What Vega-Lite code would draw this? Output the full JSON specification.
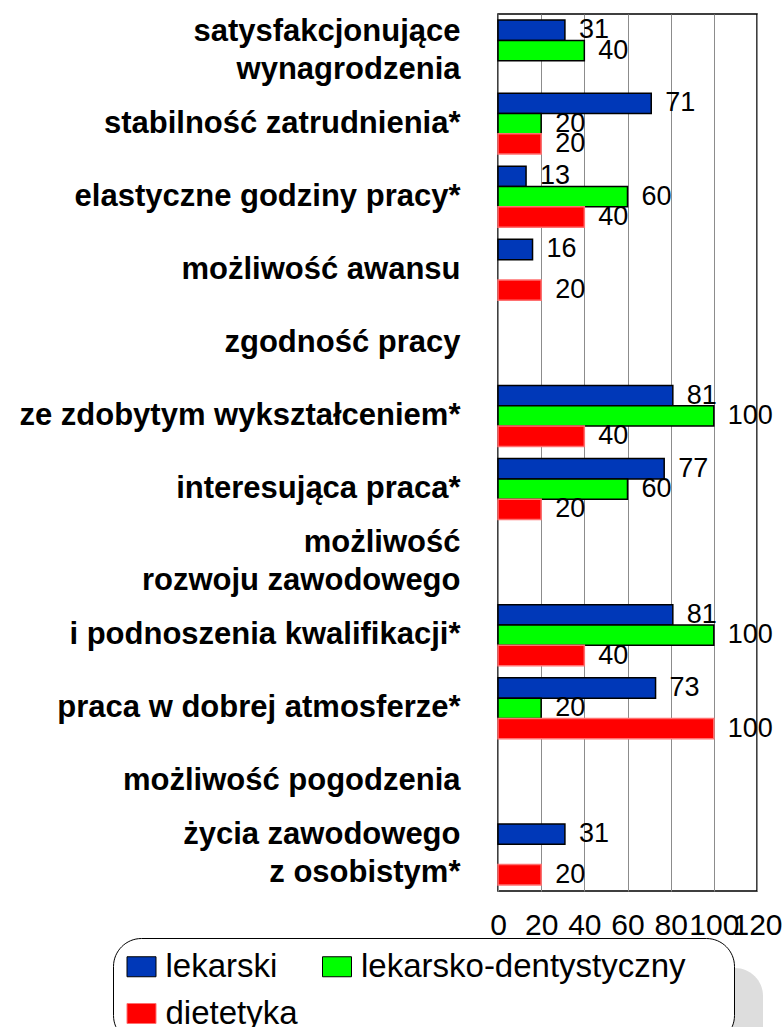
{
  "$schema": "https://vega.github.io/schema/vega-lite/v6.json",
  "width": 259,
  "height": 877,
  "autosize": {"type": "none"},
  "padding": {"left": 498, "top": 14, "right": 26, "bottom": 136},
  "background": "white",
  "config": {
    "view": {"stroke": "black", "strokeWidth": 1.5},
    "font": "Liberation Sans"
  },
  "data": {
    "values": [
      {"cat": "satysfakcjonujące|wynagrodzenia", "series": "lekarski", "value": 31},
      {"cat": "satysfakcjonujące|wynagrodzenia", "series": "lekarsko-dentystyczny", "value": 40},
      {"cat": "stabilność zatrudnienia*", "series": "lekarski", "value": 71},
      {"cat": "stabilność zatrudnienia*", "series": "lekarsko-dentystyczny", "value": 20},
      {"cat": "stabilność zatrudnienia*", "series": "dietetyka", "value": 20},
      {"cat": "elastyczne godziny pracy*", "series": "lekarski", "value": 13},
      {"cat": "elastyczne godziny pracy*", "series": "lekarsko-dentystyczny", "value": 60},
      {"cat": "elastyczne godziny pracy*", "series": "dietetyka", "value": 40},
      {"cat": "możliwość awansu", "series": "lekarski", "value": 16},
      {"cat": "możliwość awansu", "series": "dietetyka", "value": 20},
      {"cat": "ze zdobytym wykształceniem*", "series": "lekarski", "value": 81},
      {"cat": "ze zdobytym wykształceniem*", "series": "lekarsko-dentystyczny", "value": 100},
      {"cat": "ze zdobytym wykształceniem*", "series": "dietetyka", "value": 40},
      {"cat": "interesująca praca*", "series": "lekarski", "value": 77},
      {"cat": "interesująca praca*", "series": "lekarsko-dentystyczny", "value": 60},
      {"cat": "interesująca praca*", "series": "dietetyka", "value": 20},
      {"cat": "i podnoszenia kwalifikacji*", "series": "lekarski", "value": 81},
      {"cat": "i podnoszenia kwalifikacji*", "series": "lekarsko-dentystyczny", "value": 100},
      {"cat": "i podnoszenia kwalifikacji*", "series": "dietetyka", "value": 40},
      {"cat": "praca w dobrej atmosferze*", "series": "lekarski", "value": 73},
      {"cat": "praca w dobrej atmosferze*", "series": "lekarsko-dentystyczny", "value": 20},
      {"cat": "praca w dobrej atmosferze*", "series": "dietetyka", "value": 100},
      {"cat": "życia zawodowego|z osobistym*", "series": "lekarski", "value": 31},
      {"cat": "życia zawodowego|z osobistym*", "series": "dietetyka", "value": 20}
    ]
  },
  "encoding": {
    "y": {
      "field": "cat",
      "type": "nominal",
      "title": null,
      "scale": {
        "domain": [
          "satysfakcjonujące|wynagrodzenia",
          "stabilność zatrudnienia*",
          "elastyczne godziny pracy*",
          "możliwość awansu",
          "zgodność pracy",
          "ze zdobytym wykształceniem*",
          "interesująca praca*",
          "możliwość|rozwoju zawodowego",
          "i podnoszenia kwalifikacji*",
          "praca w dobrej atmosferze*",
          "możliwość pogodzenia",
          "życia zawodowego|z osobistym*"
        ],
        "paddingInner": 0,
        "paddingOuter": 0
      },
      "axis": {
        "domain": false,
        "ticks": false,
        "labelExpr": "split(datum.label, '|')",
        "labelFontSize": 31,
        "labelFontWeight": "bold",
        "labelColor": "black",
        "labelPadding": 38,
        "labelLineHeight": 38,
        "labelLimit": 500,
        "labelAlign": "right",
        "labelBaseline": "middle",
        "labelOffset": {"condition": {"test": "indexof(datum.value, '|') >= 0", "value": -19}, "value": 0}
      }
    },
    "yOffset": {
      "field": "series",
      "type": "nominal",
      "scale": {
        "domain": ["lekarski", "lekarsko-dentystyczny", "dietetyka"],
        "paddingInner": 0,
        "paddingOuter": 0.3
      }
    },
    "x": {
      "field": "value",
      "type": "quantitative",
      "title": null,
      "scale": {"domain": [0, 120], "nice": false},
      "axis": {
        "values": [0, 20, 40, 60, 80, 100, 120],
        "grid": true,
        "gridColor": "#8c8c8c",
        "gridWidth": 1,
        "domain": false,
        "ticks": false,
        "labelFontSize": 30,
        "labelColor": "black",
        "labelPadding": 19,
        "labelOverlap": false,
        "labelFlush": false
      }
    }
  },
  "layer": [
    {
      "mark": {"type": "bar", "stroke": "black", "strokeWidth": 1.5},
      "encoding": {
        "fill": {
          "field": "series",
          "type": "nominal",
          "scale": {
            "domain": ["lekarski", "lekarsko-dentystyczny", "dietetyka"],
            "range": ["#0038B8", "#00FF00", "#FF0000"]
          },
          "legend": {
            "orient": "none",
            "legendX": -385,
            "legendY": 924,
            "direction": "horizontal",
            "columns": 2,
            "title": " ",
            "titleOrient": "right",
            "titleFontSize": 1,
            "titlePadding": 36,
            "symbolType": "M-1.45,-1L1.45,-1L1.45,1L-1.45,1Z",
            "symbolSize": 400,
            "symbolStrokeColor": "black",
            "symbolStrokeWidth": 1,
            "labelFontSize": 33,
            "labelColor": "black",
            "labelOffset": 7.5,
            "labelLimit": 600,
            "columnPadding": 22.5,
            "rowPadding": 13,
            "padding": 12,
            "strokeColor": "black",
            "cornerRadius": 28,
            "fillColor": "white",
            "zindex": 2
          }
        },
        "stroke": {
          "field": "series",
          "type": "nominal",
          "scale": {
            "domain": ["lekarski", "lekarsko-dentystyczny", "dietetyka"],
            "range": ["#000000", "#000000", "#FF7070"]
          },
          "legend": null
        }
      }
    },
    {
      "mark": {"type": "text", "align": "left", "baseline": "middle", "dx": 14, "fontSize": 27},
      "encoding": {
        "text": {"field": "value", "type": "quantitative"},
        "color": {
          "field": "value",
          "type": "quantitative",
          "scale": {"range": ["#000000", "#000000"]},
          "legend": {
            "orient": "none",
            "legendX": -355,
            "legendY": 954,
            "direction": "horizontal",
            "title": null,
            "gradientLength": 620,
            "gradientThickness": 120,
            "gradientOpacity": 0,
            "gradientStrokeWidth": 0,
            "labelOpacity": 0,
            "labelFontSize": 1,
            "padding": 0,
            "fillColor": "#DDDDDD",
            "cornerRadius": 28,
            "zindex": 1
          }
        }
      }
    }
  ]
}
